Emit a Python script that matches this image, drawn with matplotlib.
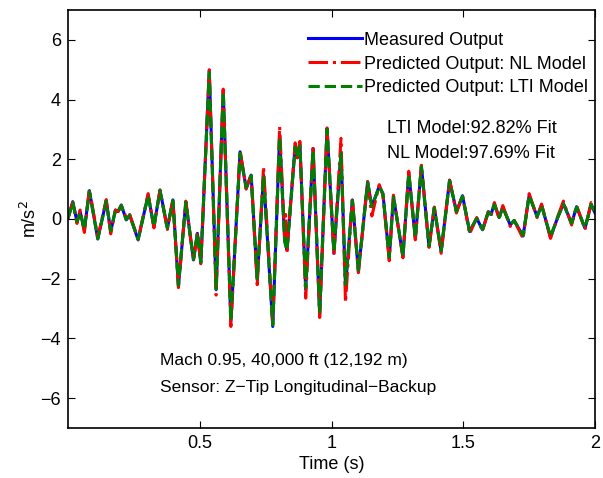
import matplotlib
matplotlib.use('Agg')
import matplotlib.pyplot as plt

plt.rcParams['font.family'] = ['Liberation Sans', 'DejaVu Sans']

# time of each turning point of the signal (s)
time_s = [0.000, 0.018, 0.034, 0.046, 0.062, 0.081, 0.113, 0.145, 0.162, 0.180,
          0.190, 0.202, 0.221, 0.234, 0.266, 0.304, 0.326, 0.349, 0.377, 0.398,
          0.419, 0.447, 0.476, 0.491, 0.504, 0.536, 0.562, 0.589, 0.618, 0.653,
          0.676, 0.695, 0.718, 0.742, 0.777, 0.803, 0.822, 0.826, 0.831, 0.862,
          0.870, 0.880, 0.902, 0.930, 0.955, 0.983, 1.009, 1.036, 1.053, 1.079,
          1.102, 1.137, 1.153, 1.181, 1.195, 1.219, 1.235, 1.271, 1.293, 1.318,
          1.341, 1.370, 1.390, 1.416, 1.448, 1.474, 1.497, 1.524, 1.551, 1.573,
          1.595, 1.605, 1.618, 1.636, 1.650, 1.678, 1.693, 1.727, 1.750, 1.780,
          1.797, 1.831, 1.857, 1.880, 1.911, 1.930, 1.962, 1.985, 2.000]

measured = [0.03, 0.58, -0.09, 0.24, -0.37, 0.95, -0.67, 0.61, -0.42, 0.30,
            0.25, 0.47, -0.03, 0.13, -0.70, 0.80, -0.26, 0.97, -0.31, 0.64,
            -2.26, 0.58, -1.37, -0.48, -1.48, 4.98, -2.37, 4.31, -3.45, 2.25,
            1.03, 1.47, -2.04, 1.47, -3.60, 2.81, -0.70, -0.85, -1.04, 2.45,
            2.05, 2.50, -2.37, 2.36, -3.21, 3.03, -1.15, 2.25, -2.26, 0.64,
            -1.76, 1.25, 0.41, 1.10, 0.85, -1.31, 0.75, -1.26, 1.55, -0.65,
            1.78, -0.93, 0.38, -1.09, 1.30, 0.24, 0.78, -0.42, 0.02, -0.36,
            0.24, 0.15, 0.50, 0.05, 0.40, -0.20, -0.05, -0.57, 0.80, 0.08,
            0.47, -0.61, 0.02, 0.52, -0.15, 0.41, -0.31, 0.50, 0.20]

nl_model = [0.03, 0.55, -0.15, 0.30, -0.45, 1.00, -0.62, 0.65, -0.50, 0.30,
            0.25, 0.45, 0.05, 0.15, -0.68, 0.85, -0.30, 0.97, -0.35, 0.66,
            -2.30, 0.60, -1.40, -0.45, -1.50, 5.00, -2.55, 4.35, -3.60, 2.30,
            1.00, 1.50, -2.20, 1.75, -3.55, 3.10, -0.60, 0.15, -1.10, 2.55,
            2.05, 2.60, -2.65, 2.45, -3.30, 3.05, -1.20, 2.70, -2.80, 0.70,
            -1.80, 1.25, 0.10, 1.15, 0.80, -1.40, 0.80, -1.30, 1.60, -0.70,
            1.80, -0.95, 0.40, -1.15, 1.30, 0.20, 0.80, -0.50, 0.05, -0.40,
            0.25, 0.10, 0.55, 0.00, 0.45, -0.25, -0.05, -0.65, 0.85, 0.05,
            0.50, -0.65, 0.05, 0.60, -0.20, 0.45, -0.35, 0.55, 0.20]

lti_model = [0.03, 0.55, -0.08, 0.22, -0.35, 0.92, -0.66, 0.60, -0.40, 0.30,
             0.25, 0.45, -0.02, 0.12, -0.68, 0.78, -0.25, 0.95, -0.30, 0.62,
             -2.22, 0.56, -1.35, -0.48, -1.45, 4.90, -2.35, 4.25, -3.40, 2.20,
             1.05, 1.45, -2.00, 1.45, -3.55, 2.75, -0.75, -0.90, -1.05, 2.40,
             2.05, 2.45, -2.30, 2.30, -3.15, 3.00, -1.10, 2.20, -2.20, 0.62,
             -1.72, 1.22, 0.42, 1.08, 0.85, -1.28, 0.73, -1.24, 1.52, -0.63,
             1.75, -0.90, 0.37, -1.06, 1.28, 0.25, 0.76, -0.40, 0.02, -0.35,
             0.23, 0.15, 0.48, 0.05, 0.38, -0.18, -0.05, -0.55, 0.78, 0.08,
             0.45, -0.58, 0.02, 0.50, -0.14, 0.40, -0.30, 0.48, 0.20]

x_ticks = [0.5, 1, 1.5, 2]
y_ticks = [-6, -4, -2, 0, 2, 4, 6]

fig = plt.figure(figsize=(6.03, 4.78), dpi=100)
ax = fig.add_axes([0.1128, 0.1046, 0.8740, 0.8745])

ax.plot(time_s, measured, '-', color='#0000ff', linewidth=2.2, label='Measured Output')
ax.plot(time_s, nl_model, '-.', color='#ff0000', linewidth=2.2, label='Predicted Output: NL Model')
ax.plot(time_s, lti_model, '--', color='#008000', linewidth=2.2, label='Predicted Output: LTI Model')

ax.set_xlim(0, 2)
ax.set_ylim(-7, 7)
ax.set_xticks(x_ticks)
ax.set_xticklabels(['0.5', '1', '1.5', '2'])
ax.set_yticks(y_ticks)
ax.tick_params(direction='in', length=5, width=0.8, top=True, right=True,
               labelsize=13, pad=5)
for s in ax.spines.values():
    s.set_linewidth(1.2)

ax.set_xlabel('Time (s)', fontsize=13, labelpad=3)
ax.set_ylabel('m/s$^2$', fontsize=13, labelpad=0)

ax.legend(loc='upper right', bbox_to_anchor=(0.987, 0.948), frameon=False,
          fontsize=13, handlelength=3.0, handletextpad=0.1, labelspacing=0.38,
          borderaxespad=0, borderpad=0)

ax.text(1.21, 3.04, 'LTI Model:92.82% Fit', fontsize=13, ha='left', va='center')
ax.text(1.21, 2.20, 'NL Model:97.69% Fit', fontsize=13, ha='left', va='center')
ax.text(0.35, -4.75, 'Mach 0.95, 40,000 ft (12,192 m)', fontsize=12.5, ha='left', va='center')
ax.text(0.35, -5.65, 'Sensor: Z\u2212Tip Longitudinal\u2212Backup', fontsize=12.5, ha='left', va='center')

fig.savefig('out.png', dpi=100)
